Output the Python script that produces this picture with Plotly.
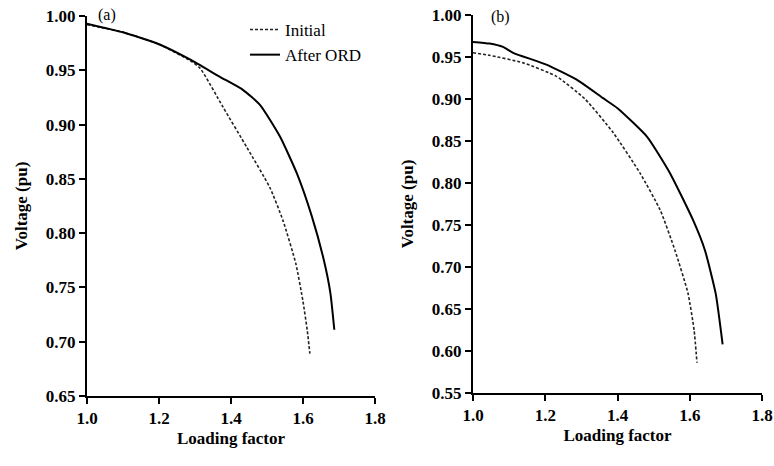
import plotly.graph_objects as go
from plotly.subplots import make_subplots

# Panel (a)
a_init_x = [1.0, 1.1, 1.2, 1.286, 1.314, 1.378, 1.444, 1.508, 1.544, 1.580, 1.600, 1.612, 1.619]
a_init_y = [0.992, 0.985, 0.974, 0.959, 0.952, 0.916, 0.879, 0.842, 0.812, 0.772, 0.737, 0.710, 0.689]
a_ord_x = [1.0, 1.1, 1.2, 1.286, 1.369, 1.433, 1.481, 1.536, 1.583, 1.625, 1.658, 1.676, 1.687]
a_ord_y = [0.993, 0.985, 0.974, 0.960, 0.944, 0.932, 0.918, 0.889, 0.855, 0.815, 0.775, 0.745, 0.711]

# Panel (b)
b_init_x = [1.0, 1.046, 1.139, 1.231, 1.31, 1.388, 1.462, 1.518, 1.559, 1.595, 1.612, 1.620]
b_init_y = [0.955, 0.952, 0.943, 0.927, 0.900, 0.860, 0.812, 0.768, 0.720, 0.669, 0.625, 0.586]
b_ord_x = [1.0, 1.046, 1.083, 1.111, 1.203, 1.287, 1.36, 1.40, 1.482, 1.545, 1.609, 1.642, 1.672, 1.691]
b_ord_y = [0.968, 0.966, 0.962, 0.955, 0.941, 0.923, 0.901, 0.889, 0.855, 0.812, 0.756, 0.720, 0.668, 0.608]

FONT = "Liberation Serif"

fig = make_subplots(rows=1, cols=2)

dash_style = dict(color="#222", width=1.6, dash="3px,2px", shape="spline", smoothing=0.5)
solid_style = dict(color="#000", width=2, shape="spline", smoothing=0.5)

fig.add_trace(go.Scatter(x=a_init_x, y=a_init_y, mode="lines", name="Initial",
                         line=dash_style), row=1, col=1)
fig.add_trace(go.Scatter(x=a_ord_x, y=a_ord_y, mode="lines", name="After ORD",
                         line=solid_style), row=1, col=1)
fig.add_trace(go.Scatter(x=b_init_x, y=b_init_y, mode="lines", name="Initial",
                         line=dash_style, showlegend=False), row=1, col=2)
fig.add_trace(go.Scatter(x=b_ord_x, y=b_ord_y, mode="lines", name="After ORD",
                         line=solid_style, showlegend=False), row=1, col=2)

tickfont = dict(family=FONT, size=17, color="black", weight="bold")
titlefont = dict(family=FONT, size=17, color="black", weight="bold")

axis_common = dict(showline=True, linewidth=2, linecolor="black", ticks="outside",
                   ticklen=6, tickwidth=2, tickcolor="black", showgrid=False,
                   zeroline=False, tickfont=tickfont, mirror=False, automargin=False)

fig.update_xaxes(**axis_common, range=[1.0, 1.8], tick0=1.0, dtick=0.2, tickformat=".1f",
                 title=dict(text="Loading factor", font=titlefont, standoff=5))
fig.update_yaxes(**axis_common, tickformat=".2f", dtick=0.05,
                 title=dict(text="Voltage (pu)", font=titlefont, standoff=14))

fig.update_layout(
    template="none",
    font=dict(family=FONT, size=17, color="black"),
    xaxis=dict(domain=[87/774, 375/774]),
    xaxis2=dict(domain=[473/774, 762/774]),
    yaxis=dict(domain=[70/466, 450/466], range=[0.65, 1.0], tick0=0.65),
    yaxis2=dict(domain=[73/466, 451/466], range=[0.55, 1.0], tick0=0.55),
    width=774, height=466,
    margin=dict(l=0, r=0, t=0, b=0, autoexpand=False),
    paper_bgcolor="white", plot_bgcolor="white",
    showlegend=True,
    legend=dict(x=245/774, y=1-12/466, xanchor="left", yanchor="top",
                font=dict(family=FONT, size=17, color="black"),
                bgcolor="rgba(0,0,0,0)", tracegroupgap=0, itemwidth=30),
    annotations=[
        dict(text="(a)", x=107/774, y=1-15/466, xref="paper", yref="paper",
             xanchor="center", yanchor="middle",
             showarrow=False, font=dict(family=FONT, size=16, color="black")),
        dict(text="(b)", x=500/774, y=1-17/466, xref="paper", yref="paper",
             xanchor="center", yanchor="middle",
             showarrow=False, font=dict(family=FONT, size=16, color="black")),
    ],
)

fig.write_html("out.html", config={"displayModeBar": False},
               post_script="document.body.style.margin='0';document.body.style.overflow='hidden';")
